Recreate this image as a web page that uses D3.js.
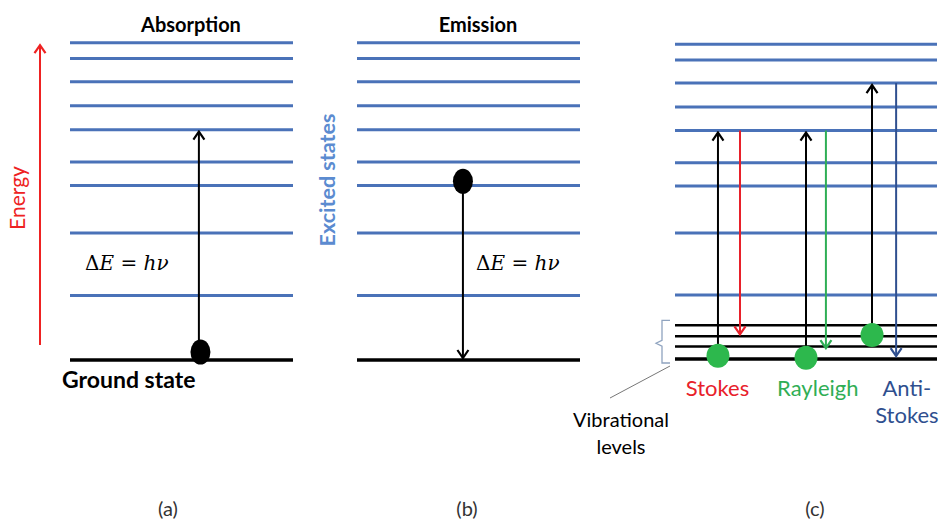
<!DOCTYPE html>
<html>
<head>
<meta charset="utf-8">
<script src="https://cdn.jsdelivr.net/npm/d3@7"></script>
<style>
  html, body { margin: 0; padding: 0; background: #fff; }
  svg { display: block; }
  text { font-family: Lato, "Open Sans", sans-serif; }
  text.math { font-family: "DejaVu Serif", "Liberation Serif", serif; }
</style>
</head>
<body>
<svg id="chart" width="946" height="520"></svg>
<script>
// ---------- data ----------
// Excited (electronic) state energies, arbitrary units (ground state = 0)
const excitedLevels = [20.3, 40, 55, 62.4, 72.6, 80.1, 87.7, 95, 100];
// Vibrational sub-levels of the ground state (panel c)
const vibrationalLevels = [0, 4, 7.2, 10.7];
const panels = ["a", "b", "c"];
const panelTitles = ["Absorption", "Emission", ""];
const panelLabels = ["(a)", "(b)", "(c)"];
// Transitions: panel, relative x-position in panel, from-energy, to-energy, colour key
const transitions = [
  { panel: "a", pos: 0.578, from: 2.5, to: 72.6, kind: "black" },
  { panel: "b", pos: 0.475, from: 53, to: 0, kind: "black" },
  { panel: "c", pos: 0.164, from: 0, to: 72.6, kind: "black" },
  { panel: "c", pos: 0.248, from: 72.6, to: 7.2, kind: "stokes" },
  { panel: "c", pos: 0.500, from: 0, to: 72.6, kind: "black" },
  { panel: "c", pos: 0.576, from: 72.6, to: 2.8, kind: "rayleigh" },
  { panel: "c", pos: 0.752, from: 7.2, to: 87.7, kind: "black" },
  { panel: "c", pos: 0.844, from: 87.7, to: 0.3, kind: "anti" }
];
// Molecules (dots): panel, relative x, energy, colour key
const molecules = [
  { panel: "a", pos: 0.585, e: 2.5, kind: "black" },
  { panel: "b", pos: 0.475, e: 56.3, kind: "black" },
  { panel: "c", pos: 0.164, e: 1.0, kind: "green" },
  { panel: "c", pos: 0.500, e: 0.4, kind: "green" },
  { panel: "c", pos: 0.752, e: 7.6, kind: "green" }
];
const scatterLabels = [
  { text: ["Stokes"], pos: 0.162, kind: "stokes" },
  { text: ["Rayleigh"], pos: 0.545, kind: "rayleigh" },
  { text: ["Anti-", "Stokes"], pos: 0.885, kind: "anti" }
];

// ---------- styles ----------
const colors = {
  level: "#4a72b8",
  black: "#000000",
  stokes: "#e8202a",
  rayleigh: "#2fae55",
  anti: "#2f4f8f",
  green: "#2db84d",
  energy: "#ee2222",
  excited: "#5b8bd0",
  brace: "#8fa3bf"
};

const svg = d3.select("#chart");

// ---------- scales ----------
const y = d3.scaleLinear().domain([0, 100]).range([360, 42.7]);
const yC = d3.scaleLinear().domain([0, 100]).range([359, 44.3]);
const panelX = {
  a: d3.scaleLinear().domain([0, 1]).range([70, 293]),
  b: d3.scaleLinear().domain([0, 1]).range([357, 580]),
  c: d3.scaleLinear().domain([0, 1]).range([675, 937])
};
const yOf = p => (p === "c" ? yC : y);

// ---------- arrow markers ----------
const defs = svg.append("defs");
Object.entries(colors).forEach(([k, c]) => {
  defs.append("marker")
    .attr("id", "arr-" + k)
    .attr("viewBox", "-10 -7 12 14")
    .attr("refX", 0).attr("refY", 0)
    .attr("markerWidth", 12).attr("markerHeight", 14)
    .attr("markerUnits", "userSpaceOnUse")
    .attr("orient", "auto")
    .append("path")
    .attr("d", "M-8,-5.5 L0,0 L-8,5.5")
    .attr("fill", "none")
    .attr("stroke", c)
    .attr("stroke-width", 2.2);
});

// ---------- levels ----------
panels.forEach(p => {
  const g = svg.append("g").attr("class", "panel-" + p);
  const xs = panelX[p], ys = yOf(p);
  g.selectAll("line.level").data(excitedLevels).join("line")
    .attr("class", "level")
    .attr("x1", xs(0)).attr("x2", xs(1))
    .attr("y1", d => ys(d)).attr("y2", d => ys(d))
    .attr("stroke", colors.level).attr("stroke-width", 3);
  const ground = p === "c" ? vibrationalLevels : [0];
  g.selectAll("line.ground").data(ground).join("line")
    .attr("class", "ground")
    .attr("x1", xs(0)).attr("x2", xs(1))
    .attr("y1", d => ys(d)).attr("y2", d => ys(d))
    .attr("stroke", colors.black).attr("stroke-width", d => d === 0 ? 3.5 : 2.5);
});

// ---------- transitions ----------
svg.append("g").selectAll("line").data(transitions).join("line")
  .attr("x1", d => panelX[d.panel](d.pos))
  .attr("x2", d => panelX[d.panel](d.pos))
  .attr("y1", d => yOf(d.panel)(d.from))
  .attr("y2", d => yOf(d.panel)(d.to) + (d.to > d.from ? 2 : -2))
  .attr("stroke", d => colors[d.kind])
  .attr("stroke-width", 2)
  .attr("marker-end", d => "url(#arr-" + d.kind + ")");

// ---------- molecules ----------
svg.append("g").selectAll("ellipse").data(molecules).join("ellipse")
  .attr("cx", d => panelX[d.panel](d.pos))
  .attr("cy", d => yOf(d.panel)(d.e))
  .attr("rx", d => d.kind === "green" ? 11.5 : 10)
  .attr("ry", d => d.kind === "green" ? 12 : 12.5)
  .attr("fill", d => colors[d.kind]);

// ---------- texts ----------
panels.forEach((p, i) => {
  if (panelTitles[i]) {
    svg.append("text")
      .attr("x", [191, 478][i]).attr("y", 32)
      .attr("text-anchor", "middle")
      .attr("font-size", 20).attr("font-weight", 700)
      .text(panelTitles[i]);
  }
  svg.append("text")
    .attr("x", [168, 467, 815][i]).attr("y", 516)
    .attr("text-anchor", "middle")
    .attr("font-size", 20)
    .attr("fill", "#333")
    .text(panelLabels[i]);
});

svg.append("text")
  .attr("x", 62).attr("y", 388)
  .attr("font-size", 23).attr("font-weight", 700)
  .text("Ground state");

// Energy axis arrow
svg.append("line")
  .attr("x1", 40).attr("x2", 40)
  .attr("y1", y(4.7)).attr("y2", y(99.2))
  .attr("stroke", colors.energy).attr("stroke-width", 2)
  .attr("marker-end", "url(#arr-energy)");
svg.append("text")
  .attr("transform", "translate(25,198) rotate(-90)")
  .attr("text-anchor", "middle")
  .attr("font-size", 21)
  .attr("fill", colors.energy)
  .text("Energy");

svg.append("text")
  .attr("transform", "translate(335,180) rotate(-90)")
  .attr("text-anchor", "middle")
  .attr("font-size", 21.5).attr("font-weight", 700)
  .attr("fill", colors.excited)
  .text("Excited states");

// ΔE = hν
function deltaE(x, yy) {
  const t = svg.append("text").attr("class", "math").attr("x", x).attr("y", yy)
    .attr("font-size", 20);
  t.append("tspan").text("\u0394");
  t.append("tspan").attr("font-style", "italic").text("E");
  t.append("tspan").text(" = ");
  t.append("tspan").attr("font-style", "italic").text("h\u03BD");
}
deltaE(85, 270);
deltaE(476, 270);

// Scattering labels
scatterLabels.forEach(l => {
  const t = svg.append("text")
    .attr("x", panelX.c(l.pos)).attr("y", 396)
    .attr("text-anchor", "middle")
    .attr("font-size", 22)
    .attr("fill", colors[l.kind]);
  l.text.forEach((s, i) => t.append("tspan").attr("x", panelX.c(l.pos)).attr("dy", i ? 27 : 0).text(s));
});

// Vibrational-levels brace and callout
const vTop = yC(10.7) - 5, vBot = yC(0) + 4, vMid = yC(5);
svg.append("path")
  .attr("d", `M670,${vTop} L662,${vTop} L662,${vMid - 3} L656,${vMid} L662,${vMid + 3} L662,${vBot} L670,${vBot}`)
  .attr("fill", "none").attr("stroke", colors.brace).attr("stroke-width", 1.3);
svg.append("line")
  .attr("x1", 670).attr("y1", vBot + 3).attr("x2", 610).attr("y2", 398)
  .attr("stroke", "#777").attr("stroke-width", 1);
const vt = svg.append("text").attr("x", 621).attr("y", 427)
  .attr("text-anchor", "middle").attr("font-size", 20);
vt.append("tspan").attr("x", 621).text("Vibrational");
vt.append("tspan").attr("x", 621).attr("dy", 27).text("levels");
</script>
</body>
</html>
